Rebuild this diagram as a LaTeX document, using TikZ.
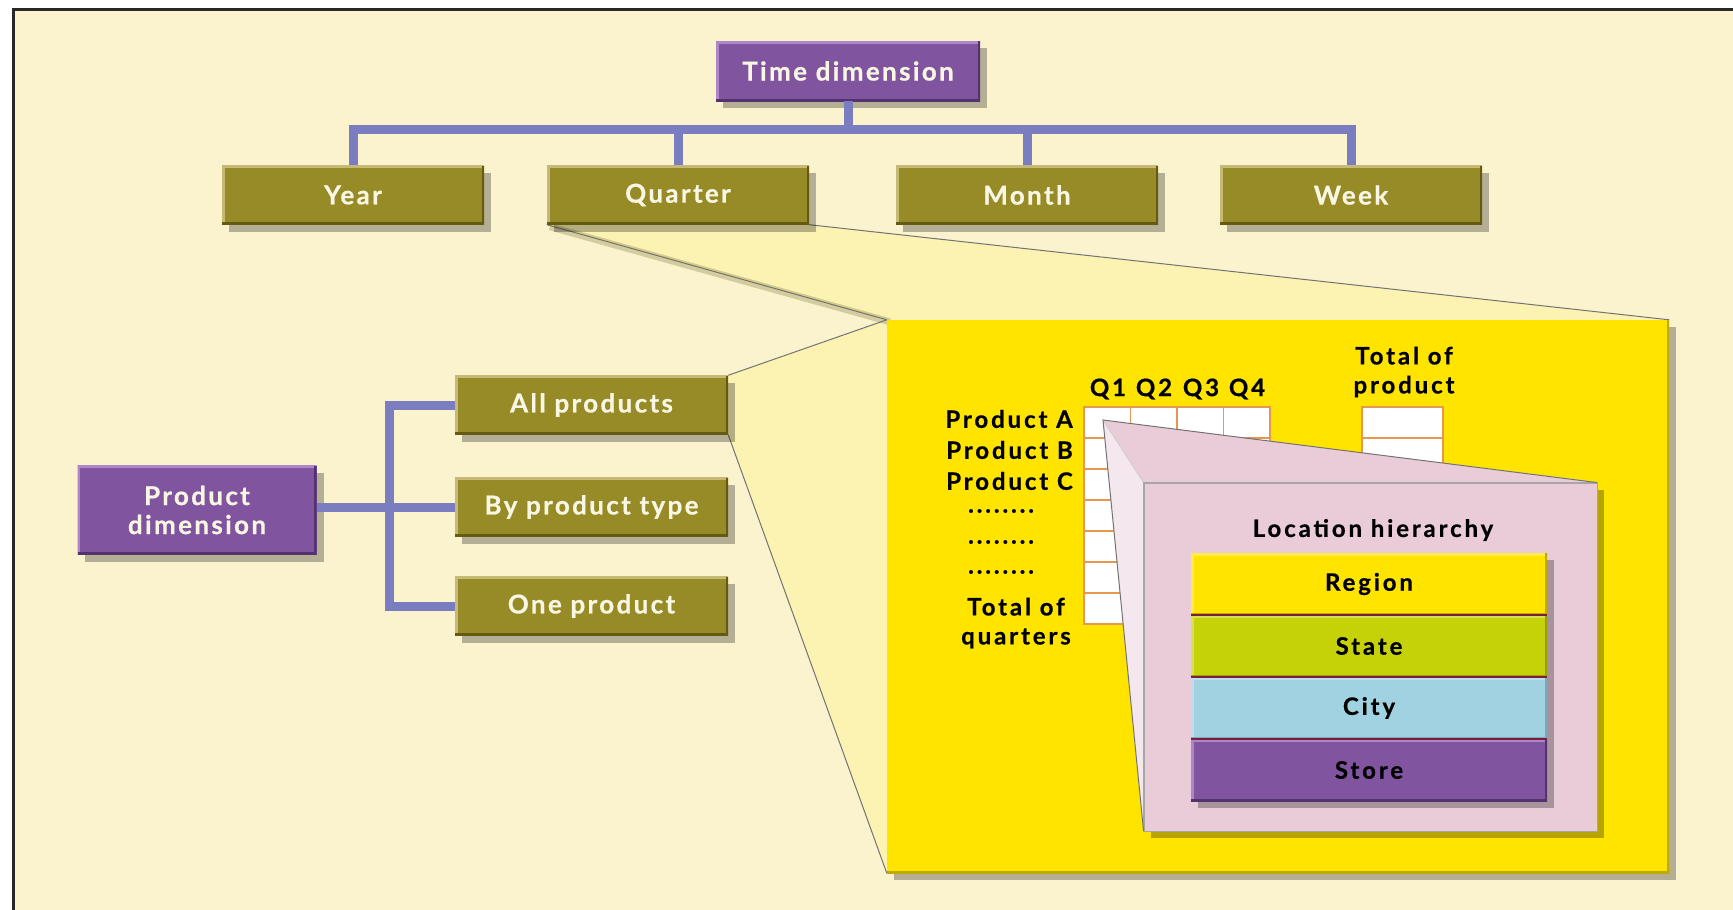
\documentclass[tikz,border=0pt]{standalone}
\usepackage{fontspec}
\setmainfont{Lato}
\newfontfamily\whitelab{Lato}[LetterSpace=9, BoldFeatures={FakeBold=0.6}]
\newfontfamily\blacklab{Lato}[LetterSpace=12, BoldFeatures={FakeBold=0.6}]
\usetikzlibrary{shadows}
\pgfdeclarelayer{back}
\pgfsetlayers{back,main}

\definecolor{bgcream}{RGB}{250,243,206}
\definecolor{framegray}{RGB}{40,40,40}
\definecolor{olivefill}{RGB}{151,139,39}
\definecolor{olivelight}{RGB}{196,186,118}
\definecolor{olivedark}{RGB}{100,90,18}
\definecolor{purplefill}{RGB}{128,84,158}
\definecolor{purplelight}{RGB}{172,134,198}
\definecolor{purpledark}{RGB}{84,50,110}
\definecolor{connblue}{RGB}{122,126,192}
\definecolor{funnelyellow}{RGB}{252,242,178}
\definecolor{panelyellow}{RGB}{255,228,0}
\definecolor{paneldark}{RGB}{190,170,0}
\definecolor{pinkface}{RGB}{234,204,217}
\definecolor{pinklight}{RGB}{244,231,237}
\definecolor{celledge}{RGB}{232,150,80}
\definecolor{statefill}{RGB}{198,210,8}
\definecolor{statedark}{RGB}{150,160,0}
\definecolor{cityfill}{RGB}{160,210,226}
\definecolor{citydark}{RGB}{120,170,190}
\definecolor{labelcream}{RGB}{250,246,228}
\definecolor{sepred}{RGB}{125,30,60}

\tikzset{
  bevel/.style n args={3}{fill=#1, path picture={
      \draw[#2, line width=5pt] (path picture bounding box.south west) -- (path picture bounding box.north west) -- (path picture bounding box.north east);
      \draw[#3, line width=5pt] (path picture bounding box.north east) -- (path picture bounding box.south east) -- (path picture bounding box.south west);
  }},
  shade box/.style={drop shadow={shadow xshift=7pt, shadow yshift=-7pt, fill=black, opacity=0.28}},
  whitefont/.style={text=labelcream, font=\whitelab\fontsize{26}{29}\selectfont\bfseries},
  blackfont/.style={text=black, font=\blacklab\fontsize{24}{29}\selectfont\bfseries},
  label/.style={blackfont, inner sep=1pt},
  olivebox/.style={bevel={olivefill}{olivelight}{olivedark}, shade box, whitefont,
    minimum height=59pt, inner sep=0pt},
  purplebox/.style={bevel={purplefill}{purplelight}{purpledark}, shade box, whitefont,
    inner sep=0pt, align=center},
  tree/.style={draw=connblue, line width=9pt},
  edge/.style={draw=black!55, line width=1pt},
  cell/.style={fill=white, draw=celledge, line width=1.6pt},
  layer/.style={shade box, blackfont, minimum width=356pt, minimum height=62pt, inner sep=0pt},
  sepline/.style={draw=sepred, line width=2.5pt},
}

\begin{document}
\begin{tikzpicture}[x=1pt,y=-1pt]
\useasboundingbox (0,0) rectangle (1733,910);

% frame on the top and left sides
\draw[line width=3pt, framegray] (13,910) -- (13,9) -- (1733,9);

% ---- time dimension tree
\node[purplebox, minimum width=264pt, minimum height=60pt] (time) at (848,71) {Time dimension};
\node[olivebox, minimum width=262pt] (year)    at (353,195)  {Year};
\node[olivebox, minimum width=262pt] (quarter) at (678,195)  {Quarter};
\node[olivebox, minimum width=262pt] (month)   at (1027,195) {Month};
\node[olivebox, minimum width=262pt] (week)    at (1351,195) {Week};
\coordinate (bar) at (0,129);
\draw[tree] (time.south) -- (time.south |- bar);
\draw[tree] (year.north) -- (year.north |- bar) -- (week.north |- bar) -- (week.north);
\draw[tree] (quarter.north) -- (quarter.north |- bar);
\draw[tree] (month.north) -- (month.north |- bar);

% ---- product dimension tree
\coordinate (pbar) at (389,0);
\node[purplebox, minimum width=239pt, minimum height=89pt] (pdim) at (197,510) {Product\\dimension};
\node[olivebox, minimum width=273pt] (allp)  at (591.5,405) {All products};
\node[olivebox, minimum width=273pt] (ptype) at (591.5,507) {By product type};
\node[olivebox, minimum width=273pt] (onep)  at (591.5,606) {One product};
\draw[tree] (pdim.east |- ptype.west) -- (ptype.west);
\draw[tree] (allp.west) -- (allp.west -| pbar) -- (onep.west -| pbar) -- (onep.west);

% ---- yellow panel with the quarter table
\node[bevel={panelyellow}{panelyellow}{paneldark}, shade box, minimum width=782pt, minimum height=553pt,
  inner sep=0pt] (panel) at (1278,596.5) {};

\foreach \r in {0,...,6} {
  \foreach \c in {0,...,3} {
    \draw[cell] ({1084+46.5*\c},{407+31*\r}) rectangle ++(46.5,31);
  }
  \draw[cell] (1362,{407+31*\r}) rectangle ++(81,31);
}
\node[label] (q1) at (1108,389) {Q1};
\node[label] (q2) at (1154,389) {Q2};
\node[label] (q3) at (1201,389) {Q3};
\node[label] (q4) at (1247,389) {Q4};
\node[label, align=center] (totp) at (1404,372) {Total of\\product};
\node[label, anchor=east] (pa) at (1074,419) {Product A};
\node[label, anchor=east] (pb) at (1074,450) {Product B};
\node[label, anchor=east] (pc) at (1074,481) {Product C};
\node[label] (d1) at (1001,511) {........};
\node[label] (d2) at (1001,542) {........};
\node[label] (d3) at (1001,572) {........};
\node[label, align=center] (totq) at (1016,623) {Total of\\quarters};

% ---- pink location callout
\coordinate (apex) at (1103,420);
\node[fill=pinkface, draw=black!35, line width=0.8pt, shade box, minimum width=453pt, minimum height=348pt,
  inner sep=0pt] (loc) at (1370.5,657) {};
\fill[pinkface] (apex) -- (loc.north east) -- (loc.north west) -- cycle;
\fill[pinklight] (apex) -- (loc.north west) -- (loc.south west) -- cycle;
\draw[draw=black!20, line width=0.8pt] (apex) -- (loc.north west);
\draw[draw=black!35, line width=0.8pt] (loc.south west) -- (loc.north west) -- (loc.north east);
\draw[edge] (loc.north east) -- (apex) -- (loc.south west);
\node[label] (lochead) at (1373,530) {Location hierarchy};

\node[layer, bevel={panelyellow}{panelyellow!70!white}{paneldark}] (region) at (1369,584) {Region};
\node[layer, bevel={statefill}{statefill!70!white}{statedark}]   (state)  at (1369,646) {State};
\node[layer, bevel={cityfill}{cityfill!70!white}{citydark}]      (city)   at (1369,708) {City};
\node[layer, bevel={purplefill}{purplelight}{purpledark}]        (store)  at (1369,770) {Store};
\draw[sepline] (region.south west) -- (region.south east);
\draw[sepline] (state.south west) -- (state.south east);
\draw[sepline] (city.south west) -- (city.south east);

% ---- background, zoom funnels
\begin{pgfonlayer}{back}
  \fill[white] (0,0) rectangle (1733,910);
  \fill[bgcream] (13,9) rectangle (1733,910);
  \fill[funnelyellow] (quarter.south west) -- (quarter.south east) -- (panel.north east) -- (panel.north west) -- cycle;
  \fill[funnelyellow] (allp.north east) -- (panel.north west) -- (panel.south west) -- (allp.south east) -- cycle;
  \draw[olivedark, line width=7pt, opacity=0.25, transform canvas={xshift=3pt, yshift=-2pt}]
    (quarter.south west) -- (panel.north west);
  \draw[edge] (quarter.south west) -- (panel.north west);
  \draw[edge] (quarter.south east) -- (panel.north east);
  \draw[edge] (allp.north east) -- (panel.north west);
  \draw[edge] (allp.south east) -- (panel.south west);
\end{pgfonlayer}
\end{tikzpicture}
\end{document}
